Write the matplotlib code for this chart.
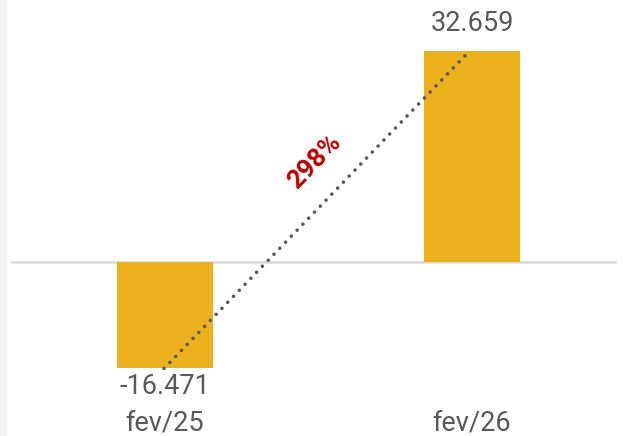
import matplotlib
matplotlib.use("Agg")
import matplotlib.pyplot as plt
from matplotlib.patches import Rectangle

categories = ["fev/25", "fev/26"]
values = [-16.471, 32.659]
value_labels = ["-16.471", "32.659"]
change_label = "298%"

plt.rcParams['font.family'] = ['Roboto', 'DejaVu Sans']

fig = plt.figure(figsize=(6.23, 4.36), dpi=100)
fig.patches.append(Rectangle((0, 0), 6/623, 1, transform=fig.transFigure,
                             color="#f3f3f3", zorder=0))
ax = fig.add_axes([0, 0, 1, 1])
ax.set_facecolor("none")
x = list(range(len(categories)))
bar_color = "#EDB11E"
ax.bar(x, values, width=0.3127, color=bar_color, zorder=2)

ax.set_xlim(-0.5375, 1.4919)
ax.set_ylim(-26.93, 40.56)
ax.axhline(0, xmin=12/623, xmax=615/623, color="#d9d9d9", lw=1.8, zorder=1)

# dotted connector line
ax.plot([x[0] - 0.003, x[1] - 0.008], values, color="#555a60", lw=2.6,
        linestyle=(0, (0.01, 2.3)), dash_capstyle="round", zorder=3)

txt_color = "#595959"
fs = 19.5
# value labels
ax.text(x[0], -19.3, value_labels[0], ha="center", va="center", fontsize=fs, color=txt_color)
ax.text(x[1], 36.9, value_labels[1], ha="center", va="center", fontsize=fs, color=txt_color)
# category labels
for xi, c in zip(x, categories):
    ax.text(xi, -24.9, c, ha="center", va="center", fontsize=fs, color=txt_color)

# change label
ax.text(0.489, 15.5, change_label, ha="center", va="center", rotation=46,
        fontsize=19, fontweight="bold", color="#C00000")

ax.axis("off")
fig.savefig("out.png", dpi=100)
